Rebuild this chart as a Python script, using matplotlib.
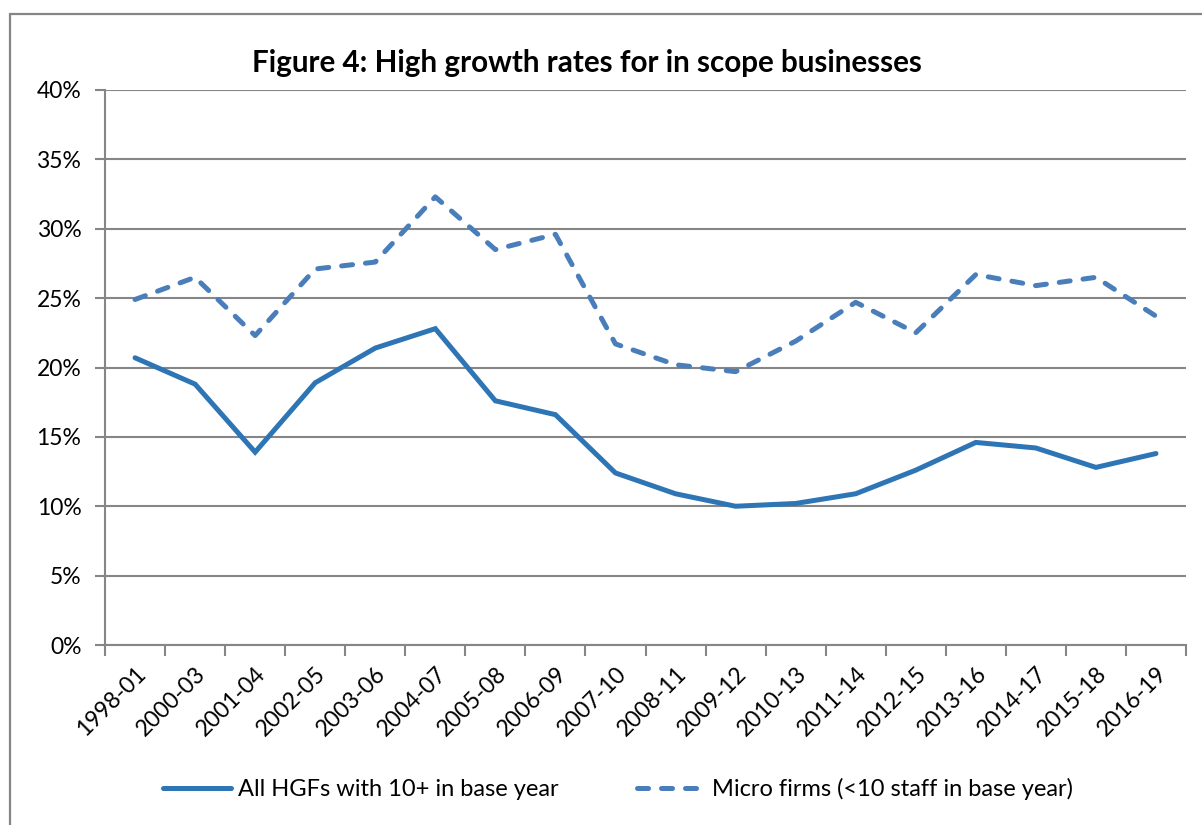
import numpy as np
import matplotlib
matplotlib.use('Agg')
import matplotlib.pyplot as plt
from matplotlib.patches import Rectangle
from matplotlib.ticker import FuncFormatter, MultipleLocator

plt.rcParams['font.family'] = ['Lato', 'DejaVu Sans']

# periods (x categories)
periods = ['1998-01', '2000-03', '2001-04', '2002-05', '2003-06', '2004-07',
           '2005-08', '2006-09', '2007-10', '2008-11', '2009-12', '2010-13',
           '2011-14', '2012-15', '2013-16', '2014-17', '2015-18', '2016-19']

# high growth rates, %
all_hgfs = [20.7, 18.8, 13.9, 18.9, 21.4, 22.8, 17.6, 16.6, 12.4, 10.9,
            10.0, 10.2, 10.9, 12.6, 14.6, 14.2, 12.8, 13.8]
micro_firms = [24.9, 26.5, 22.3, 27.1, 27.6, 32.3, 28.5, 29.6, 21.7, 20.2,
               19.7, 21.9, 24.7, 22.5, 26.7, 25.9, 26.5, 23.7]

series_labels = ['All HGFs with 10+ in base year',
                 'Micro firms (<10 staff in base year)']
title = 'Figure 4: High growth rates for in scope businesses'

grey = '#868686'
solid_col = '#2E75B6'
dash_col = '#4A7EBB'

fig = plt.figure(figsize=(12.02, 8.25), dpi=100)
ax = fig.add_axes([105 / 1202, 1 - 645 / 825, (1186 - 105) / 1202, (645 - 90) / 825])

# outer chart border (only top/left visible in the crop)
fig.patches.append(Rectangle((10 / 1202, -0.1), 1.2, 1 - 14 / 825 + 0.1,
                             transform=fig.transFigure, fill=False,
                             edgecolor=grey, linewidth=1.6))

x = np.arange(len(periods))
ax.plot(x, all_hgfs, color=solid_col, linewidth=3.6, solid_joinstyle='miter',
        solid_capstyle='round', label=series_labels[0], zorder=3)
ax.plot(x, micro_firms, color=dash_col, linewidth=3.6, linestyle=(0, (2.2, 2.6)),
        dash_capstyle='round', label=series_labels[1], zorder=3)

ax.set_xlim(-0.5, len(periods) - 0.5)
ax.set_ylim(0, 40)
ax.yaxis.set_major_locator(MultipleLocator(5))
ax.yaxis.set_major_formatter(FuncFormatter(lambda v, p: f'{v:.0f}%'))
ax.grid(axis='y', color=grey, linewidth=1.5)
ax.set_axisbelow(True)

for s in ['top', 'right']:
    ax.spines[s].set_visible(False)
for s in ['left', 'bottom']:
    ax.spines[s].set_color(grey)
    ax.spines[s].set_linewidth(1.5)

ax.tick_params(axis='y', length=7, width=1.5, color=grey, labelsize=16.5, pad=10)

# labels at category centres, tick marks on category boundaries
ax.set_xticks(x)
ax.set_xticklabels(periods, rotation=45, ha='right', va='top',
                   rotation_mode='anchor', fontsize=16.5)
ax.tick_params(axis='x', which='major', length=0, pad=13)
ax.set_xticks(np.arange(len(periods) + 1) - 0.5, minor=True)
ax.tick_params(axis='x', which='minor', length=8, width=1.5, color=grey)

fig.text(587 / 1202, 1 - 63 / 825, title, ha='center', va='center',
         fontsize=21.3, fontweight='bold')

fig.legend(loc='center', bbox_to_anchor=(618 / 1202, 1 - 789 / 825), ncol=2,
           frameon=False, fontsize=17, handlelength=2.9, columnspacing=3.3,
           handletextpad=0.3)

fig.savefig('out.png', dpi=100)
